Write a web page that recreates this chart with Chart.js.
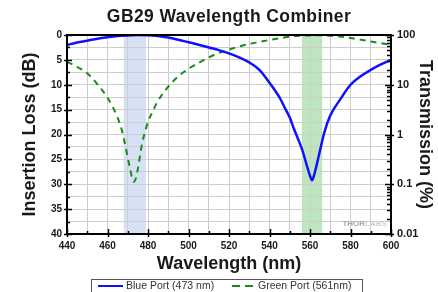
<!DOCTYPE html>
<html><head><meta charset="utf-8">
<script src="https://cdn.jsdelivr.net/npm/chart.js@4.4.0/dist/chart.umd.min.js"></script>
<style>html,body{margin:0;padding:0;background:#fff;}canvas{display:block;}</style>
</head><body>
<canvas id="c" width="438" height="292"></canvas>
<script>
const chartTitle = 'GB29 Wavelength Combiner';
const xAxisTitle = 'Wavelength (nm)';
const leftAxisTitle = 'Insertion Loss (dB)';
const rightAxisTitle = 'Transmission (%)';
const seriesNames = ['Blue Port (473 nm)', 'Green Port (561nm)'];

const blueWavelengths = [440,445,450,455,460,465,470,475,480,485,490,495,500,505,510,515,520,525,530,535,540,545,548,550,552,554,556,558,560,561,562,563,565,567,570,575,580,585,590,595,600];
const blueLossDb      = [2.0,1.5,1.15,0.75,0.45,0.2,0.08,0.02,0.03,0.18,0.5,0.95,1.45,1.95,2.5,3.05,3.7,4.5,5.5,7.0,9.6,12.6,15.0,16.6,18.8,20.8,22.9,25.6,28.3,29.2,28.2,26.6,23.1,19.7,16.2,12.9,10.0,8.3,7.0,5.9,5.0];

const greenWavelengths = [440,445,450,455,460,463,465,467,469,471,473,474,475,476,477,479,480,482,485,490,495,500,505,510,515,520,525,530,535,540,545,550,555,560,565,570,575,580,585,590,595,600];
const greenLossDb      = [5.4,6.4,7.7,9.9,12.6,14.8,16.6,19.0,22.6,26.6,29.5,28.8,26.9,24.4,22.0,18.8,17.5,15.6,13.2,10.4,8.3,6.8,5.6,4.5,3.6,2.95,2.3,1.8,1.4,1.0,0.65,0.35,0.17,0.08,0.07,0.15,0.32,0.6,0.95,1.3,1.65,2.0];

const xTickLabels = ['440','460','480','500','520','540','560','580','600'];
const lossTickLabels = ['0','5','10','15','20','25','30','35','40'];
const transmissionTickLabels = ['0.01','0.1','1','10','100'];
const passbands = [[468,479],[556,566]];
const watermarkParts = ['THOR','LABS'];

const FONT = '"Liberation Sans", Arial, sans-serif';
const bandColors = ['rgba(214,225,245,1)','rgba(190,230,190,1)'];
const seriesColors = ['#1010ff','#1a8a1a'];

function toPoints(xs, ys){ return xs.map((x,i)=>({x:x, y:ys[i]})); }

const decorPlugin = {
  id: 'decor',
  beforeDraw(chart){
    const {ctx, chartArea:a, scales} = chart;
    ctx.save();
    passbands.forEach((b,i)=>{
      const x1 = scales.x.getPixelForValue(b[0]);
      const x2 = scales.x.getPixelForValue(b[1]);
      ctx.fillStyle = bandColors[i];
      ctx.fillRect(x1, a.top, x2-x1, a.bottom-a.top);
    });
    ctx.restore();
  },
  afterDatasetsDraw(chart){
    const {ctx, chartArea:a, scales} = chart;
    ctx.save();
    ctx.font = 'bold 8px ' + FONT;
    ctx.textBaseline = 'middle';
    ctx.textAlign = 'left';
    const wx = scales.x.getPixelForValue(576), wy = scales.y.getPixelForValue(38);
    ctx.fillStyle = '#a8a8a8';
    ctx.fillText(watermarkParts[0], wx, wy);
    const w0 = ctx.measureText(watermarkParts[0]).width;
    ctx.fillStyle = '#d0d0d0';
    ctx.fillText(watermarkParts[1], wx + w0, wy);
    ctx.strokeStyle = '#000';
    ctx.lineWidth = 2;
    ctx.strokeRect(a.left, a.top, a.right-a.left, a.bottom-a.top);
    ctx.lineWidth = 1.5;
    ctx.beginPath();
    scales.x.ticks.forEach(t=>{
      const px = Math.round(scales.x.getPixelForValue(t.value)) + 0.5;
      const major = xTickLabels.includes(String(t.value));
      ctx.moveTo(px, a.bottom - (major ? 5 : 3));
      ctx.lineTo(px, a.bottom + (major ? 3 : 0));
    });
    scales.y.ticks.forEach(t=>{
      const py = Math.round(scales.y.getPixelForValue(t.value)) + 0.5;
      const major = lossTickLabels.includes(String(t.value));
      ctx.moveTo(a.left - (major ? 3 : 0), py);
      ctx.lineTo(a.left + (major ? 5 : 3), py);
    });
    scales.y2.ticks.forEach(t=>{
      const py = Math.round(scales.y2.getPixelForValue(t.value)) + 0.5;
      const lg = Math.log10(t.value);
      const major = Math.abs(lg - Math.round(lg)) < 1e-6;
      ctx.moveTo(a.right - (major ? 6 : 4), py);
      ctx.lineTo(a.right + (major ? 3 : 0), py);
    });
    ctx.stroke();
    ctx.restore();
  },
  afterDraw(chart){
    const {ctx, chartArea:a} = chart;
    ctx.save();
    ctx.fillStyle = '#1a1a1a';
    ctx.textAlign = 'center';
    ctx.textBaseline = 'middle';
    ctx.font = 'bold 17.5px ' + FONT;
    ctx.letterSpacing = '0.4px';
    ctx.fillText(chartTitle, (a.left+a.right)/2, 17);
    ctx.letterSpacing = '0px';
    ctx.font = 'bold 18px ' + FONT;
    ctx.fillText(xAxisTitle, (a.left+a.right)/2, 264);
    ctx.save();
    ctx.translate(30, (a.top+a.bottom)/2);
    ctx.rotate(-Math.PI/2);
    ctx.fillText(leftAxisTitle, 0, 0);
    ctx.restore();
    ctx.save();
    ctx.translate(425, (a.top+a.bottom)/2);
    ctx.rotate(Math.PI/2);
    ctx.fillText(rightAxisTitle, 0, 0);
    ctx.restore();
    ctx.strokeStyle = '#555';
    ctx.lineWidth = 1;
    ctx.strokeRect(91.5, 279.5, 271, 20);
    const ly = 286;
    ctx.lineWidth = 2;
    ctx.strokeStyle = seriesColors[0];
    ctx.beginPath(); ctx.moveTo(98, ly); ctx.lineTo(123, ly); ctx.stroke();
    ctx.strokeStyle = seriesColors[1];
    ctx.setLineDash([8,5]);
    ctx.beginPath(); ctx.moveTo(232, ly); ctx.lineTo(253, ly); ctx.stroke();
    ctx.setLineDash([]);
    ctx.font = '10.5px ' + FONT;
    ctx.fillStyle = '#333';
    ctx.textAlign = 'left';
    ctx.fillText(seriesNames[0], 126, ly);
    ctx.fillText(seriesNames[1], 258, ly);
    ctx.restore();
  }
};

new Chart(document.getElementById('c'), {
  type: 'line',
  data: {
    datasets: [
      { label: seriesNames[0], data: toPoints(blueWavelengths, blueLossDb), borderColor: seriesColors[0], borderWidth: 2.5, pointRadius: 0, cubicInterpolationMode: 'monotone', fill: false, yAxisID: 'y' },
      { label: seriesNames[1], data: toPoints(greenWavelengths, greenLossDb), borderColor: seriesColors[1], borderWidth: 2, borderDash: [6,5], pointRadius: 0, cubicInterpolationMode: 'monotone', fill: false, yAxisID: 'y' }
    ]
  },
  options: {
    responsive: false,
    animation: false,
    devicePixelRatio: 1,
    layout: { padding: { top: 35, left: 0, right: 0, bottom: 0 } },
    plugins: { legend: { display: false }, title: { display: false }, tooltip: { enabled: false } },
    scales: {
      x: {
        type: 'linear', min: 440, max: 600,
        grid: { color: '#cdcdcd', lineWidth: 1, drawTicks: false },
        border: { display: false },
        ticks: { stepSize: 10, autoSkip: false, maxRotation: 0, padding: 6, color: '#1a1a1a',
          font: { family: FONT, size: 10, weight: 'bold' },
          callback: v => xTickLabels.includes(String(v)) ? String(v) : '' },
        afterFit: s => { s.height = 58; }
      },
      y: {
        type: 'linear', position: 'left', reverse: true, min: 0, max: 40,
        grid: { color: '#cdcdcd', lineWidth: 1, drawTicks: false },
        border: { display: false },
        ticks: { stepSize: 2.5, autoSkip: false, padding: 5, color: '#1a1a1a',
          font: { family: FONT, size: 10, weight: 'bold' },
          callback: v => lossTickLabels.includes(String(v)) ? String(v) : '' },
        afterFit: s => { s.width = 67; }
      },
      y2: {
        type: 'logarithmic', position: 'right', min: 0.01, max: 100,
        grid: { display: false, drawTicks: false },
        border: { display: false },
        ticks: { autoSkip: false, padding: 6, color: '#1a1a1a',
          font: { family: FONT, size: 11, weight: 'bold' },
          callback: v => { const s = transmissionTickLabels.find(l => Math.abs(parseFloat(l) - v) < 1e-9 * Math.max(1, v)); return s || ''; } },
        afterFit: s => { s.width = 47; }
      }
    }
  },
  plugins: [decorPlugin]
});
</script>
</body></html>
